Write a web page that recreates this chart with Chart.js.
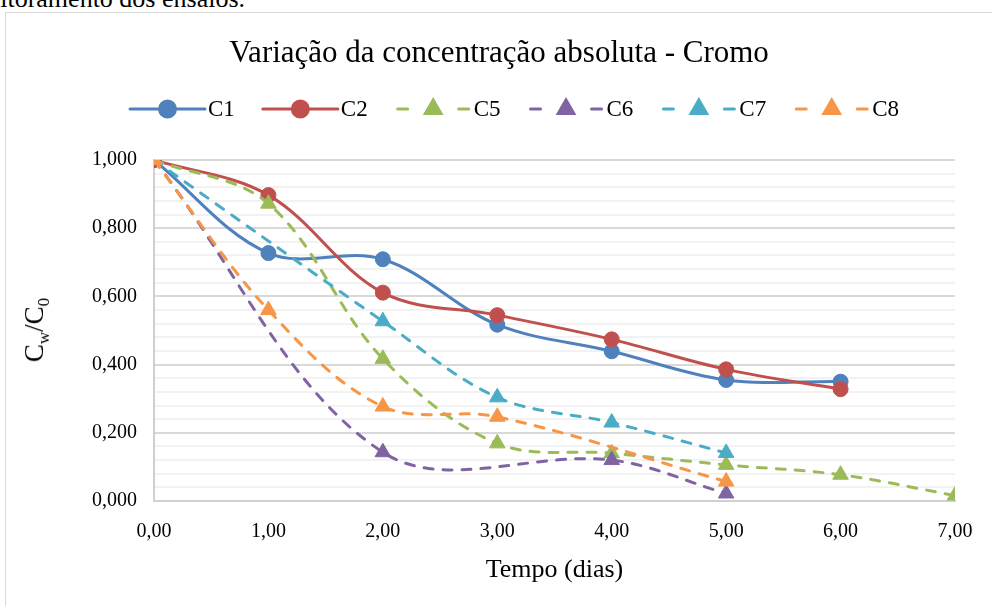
<!DOCTYPE html>
<html><head><meta charset="utf-8">
<script src="https://cdn.jsdelivr.net/npm/chart.js@4/dist/chart.umd.min.js"></script>
<style>
html,body{margin:0;padding:0;background:#fff;width:992px;height:606px;overflow:hidden;position:relative;}
#top{position:absolute;left:-46px;top:-14px;font-family:"Liberation Serif";font-size:26px;line-height:26px;white-space:nowrap;color:#000;}
#frame{position:absolute;left:5px;top:12px;width:1000px;height:700px;border:1px solid #d9d9d9;box-sizing:border-box;}
#wrap{position:absolute;left:0;top:0;width:992px;height:606px;}
#ytitle{position:absolute;left:39px;top:330px;transform:translate(-50%,-50%) rotate(-90deg);font-family:"Liberation Serif";font-size:27px;line-height:27px;white-space:nowrap;color:#000;}
#ytitle sub{font-size:17px;vertical-align:-6px;}
</style></head><body>
<div id="top">monitoramento dos ensaios.</div>
<div id="frame"></div>
<div id="wrap"><canvas id="c" width="992" height="606"></canvas></div>
<div id="ytitle">C<sub>w</sub>/C<sub>0</sub></div>
<script>
// ---- data ----
const days = [0, 1, 2, 3, 4, 5, 6, 7];
const xTickLabels = ['0,00', '1,00', '2,00', '3,00', '4,00', '5,00', '6,00', '7,00'];
const yTickValues = [0, 0.2, 0.4, 0.6, 0.8, 1.0];
const seriesNames = ['C1', 'C2', 'C5', 'C6', 'C7', 'C8'];
const c1 = [1.000, 0.727, 0.709, 0.517, 0.439, 0.355, 0.350, null];
const c2 = [1.000, 0.897, 0.611, 0.545, 0.474, 0.386, 0.328, null];
const c5 = [1.000, 0.872, 0.417, 0.169, 0.140, 0.106, 0.077, 0.016];
const c6 = [1.000, null, 0.143, null, 0.120, 0.022, null, null];
const c7 = [1.000, null, 0.527, 0.304, 0.230, 0.141, null, null];
const c8 = [1.000, 0.560, 0.277, 0.247, null, 0.057, null, null];
const seriesValues = [c1, c2, c5, c6, c7, c8];

// ---- styles ----
const colors = ['#4f81bd', '#c0504d', '#9bbb59', '#8064a2', '#4bacc6', '#f79646'];
const dashed = [false, false, true, true, true, true];
const markers = ['circle', 'circle', 'triangle', 'triangle', 'triangle', 'triangle'];
const markerRadius = { circle: 7.5, triangle: 9 };
const SERIF = 'Liberation Serif';

function toPoints(vals) {
  return days.map((d, i) => ({ x: d, y: vals[i] })).filter(p => p.y !== null);
}

const datasets = seriesNames.map((name, i) => ({
  label: name,
  data: toPoints(seriesValues[i]),
  borderColor: colors[i],
  backgroundColor: colors[i],
  borderWidth: 3,
  borderDash: dashed[i] ? [9, 10] : [],
  borderCapStyle: 'round',
  tension: 0.35,
  fill: false,
  pointStyle: markers[i],
  pointRadius: markerRadius[markers[i]],
  pointHoverRadius: markerRadius[markers[i]],
  pointBackgroundColor: colors[i],
  pointBorderColor: colors[i],
  pointBorderWidth: 1,
  order: 10 - i
}));

const isMajor = v => yTickValues.some(t => Math.abs(t - v) < 1e-6);

const legendPlugin = {
  id: 'excelLegend',
  afterDraw(chart) {
    const ctx = chart.ctx;
    const y = 109;
    let x = 130;
    ctx.save();
    ctx.font = '23px "' + SERIF + '"';
    chart.data.datasets.forEach((ds, i) => {
      ctx.strokeStyle = ds.borderColor;
      ctx.fillStyle = ds.borderColor;
      ctx.lineWidth = 3;
      ctx.lineCap = 'round';
      ctx.setLineDash([]);
      ctx.beginPath();
      if (dashed[i]) {
        ctx.moveTo(x + 2, y); ctx.lineTo(x + 12, y);
        ctx.moveTo(x + 63, y); ctx.lineTo(x + 73, y);
      } else {
        ctx.moveTo(x, y); ctx.lineTo(x + 75, y);
      }
      ctx.stroke();
      const r = ds.pointStyle === 'circle' ? 8 : 9;
      Chart.helpers.drawPoint(ctx, { pointStyle: ds.pointStyle, rotation: 0, radius: r, borderWidth: 1 }, x + 37.5, y);
      ctx.fillStyle = '#000';
      ctx.textBaseline = 'middle';
      ctx.textAlign = 'left';
      ctx.fillText(ds.label, x + 78, y + 1);
      x += 75 + 3 + ctx.measureText(ds.label).width + 28;
    });
    ctx.restore();
  }
};

new Chart(document.getElementById('c'), {
  type: 'line',
  data: { datasets },
  plugins: [legendPlugin],
  options: {
    responsive: false,
    animation: false,
    layout: { padding: { left: 43, right: 37, top: 0, bottom: 0 } },
    plugins: {
      legend: { display: false },
      tooltip: { enabled: false },
      title: {
        display: true,
        text: 'Variação da concentração absoluta - Cromo',
        color: '#000',
        font: { family: SERIF, size: 31, weight: 'normal' },
        padding: { top: 35.4, bottom: 87.4 }
      }
    },
    scales: {
      x: {
        type: 'linear',
        min: 0, max: 7,
        afterFit(s) { s.height = 105; },
        ticks: {
          stepSize: 1,
          autoSkip: false,
          maxRotation: 0,
          padding: 19,
          color: '#000',
          font: { family: SERIF, size: 20 },
          callback: v => xTickLabels[days.indexOf(v)]
        },
        grid: { display: false, drawTicks: false },
        border: { display: true, color: '#d0d0d0', width: 2 },
        title: {
          display: true,
          text: 'Tempo (dias)',
          color: '#000',
          font: { family: SERIF, size: 26 },
          padding: { top: 0, bottom: 20.4 }
        }
      },
      y: {
        min: 0, max: 1,
        afterFit(s) { s.width = 111; },
        ticks: {
          stepSize: 0.04,
          autoSkip: false,
          padding: 17,
          color: '#000',
          font: { family: SERIF, size: 20 },
          callback: v => isMajor(v) ? v.toFixed(3).replace('.', ',') : ''
        },
        grid: {
          drawTicks: false,
          lineWidth: 2,
          color: ctx => isMajor(ctx.tick.value) ? '#d9d9d9' : '#f2f2f2'
        },
        border: { display: true, color: '#d0d0d0', width: 2 }
      }
    }
  }
});
</script>
</body></html>
